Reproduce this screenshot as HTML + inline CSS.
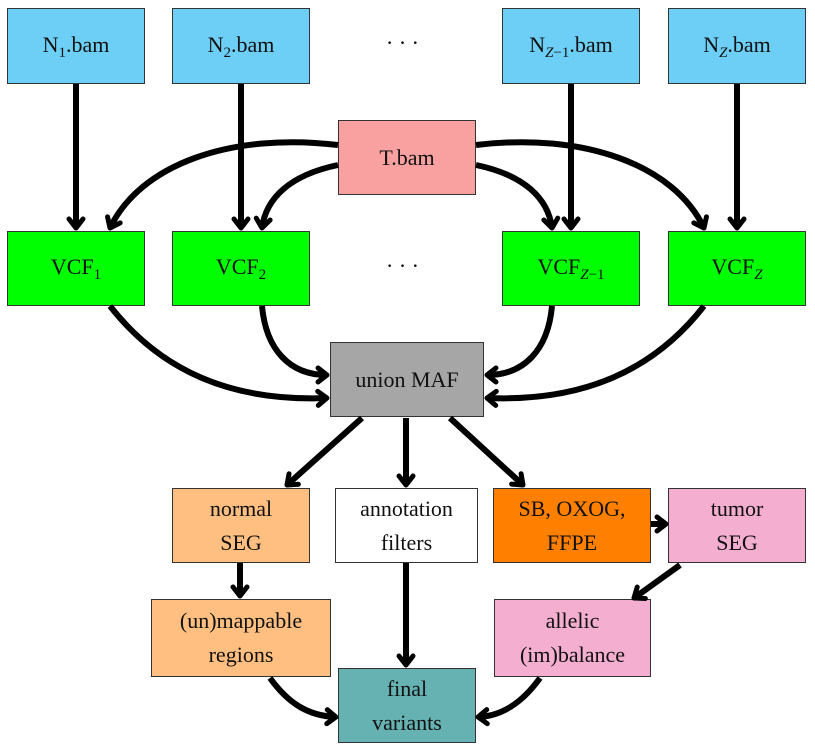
<!DOCTYPE html>
<html><head><meta charset="utf-8"><style>
body{margin:0;background:#fff;width:815px;height:749px;overflow:hidden;position:relative;font-family:"Liberation Serif",serif;}
.b{position:absolute;border:1px solid #333;box-sizing:border-box;display:flex;align-items:center;justify-content:center;text-align:center;font-size:22px;line-height:34px;color:#111;}
.bl{background:#6dcff6}.g{background:#00ff00}
.s{font-size:15px;position:relative;top:5px;}
i{font-style:italic}
.dots{position:absolute;font-size:22px;}
svg{position:absolute;left:0;top:0}
</style></head><body>
<div class="b bl" style="left:7px;top:8px;width:138px;height:76px"><span>N<span class="s">1</span>.bam</span></div>
<div class="b bl" style="left:172px;top:8px;width:138px;height:76px"><span>N<span class="s">2</span>.bam</span></div>
<div class="dots" style="left:386px;top:30px">· · ·</div>
<div class="b bl" style="left:502px;top:8px;width:138px;height:76px"><span>N<span class="s"><i>Z</i>−1</span>.bam</span></div>
<div class="b bl" style="left:668px;top:8px;width:138px;height:76px"><span>N<span class="s"><i>Z</i></span>.bam</span></div>
<div class="b" style="left:338px;top:120px;width:138px;height:75px;background:#f9a0a0">T.bam</div>
<div class="b g" style="left:7px;top:231px;width:138px;height:75px"><span>VCF<span class="s">1</span></span></div>
<div class="b g" style="left:172px;top:231px;width:138px;height:75px"><span>VCF<span class="s">2</span></span></div>
<div class="dots" style="left:386px;top:253px">· · ·</div>
<div class="b g" style="left:502px;top:231px;width:138px;height:75px"><span>VCF<span class="s"><i>Z</i>−1</span></span></div>
<div class="b g" style="left:668px;top:231px;width:138px;height:75px"><span>VCF<span class="s"><i>Z</i></span></span></div>
<div class="b" style="left:330px;top:342px;width:154px;height:75px;background:#a6a6a6">union MAF</div>
<div class="b" style="left:172px;top:488px;width:138px;height:75px;background:#ffbf80">normal<br>SEG</div>
<div class="b" style="left:335px;top:488px;width:143px;height:75px;background:#fff">annotation<br>filters</div>
<div class="b" style="left:493px;top:488px;width:158px;height:75px;background:#ff8000">SB, OXOG,<br>FFPE</div>
<div class="b" style="left:668px;top:488px;width:138px;height:75px;background:#f3aed0">tumor<br>SEG</div>
<div class="b" style="left:151px;top:599px;width:180px;height:78px;background:#ffbf80">(un)mappable<br>regions</div>
<div class="b" style="left:494px;top:599px;width:157px;height:78px;background:#f3aed0">allelic<br>(im)balance</div>
<div class="b" style="left:338px;top:668px;width:138px;height:75px;background:#66b2b2">final<br>variants</div>
<svg width="815" height="749" viewBox="0 0 815 749">
<defs><marker id="a" markerWidth="20" markerHeight="20" refX="9" refY="0" viewBox="-3 -10 15 20" orient="auto" markerUnits="userSpaceOnUse" overflow="visible">
<polyline points="0,-7 9,0 0,7" fill="none" stroke="#000" stroke-width="5" stroke-linecap="round" stroke-linejoin="round"/></marker></defs>
<g fill="none" stroke="#000" stroke-width="6" marker-end="url(#a)">
<path d="M76,84 V228"/><path d="M241,84 V228"/><path d="M571,84 V228"/><path d="M737,84 V228"/>
<path d="M338,145 C230,132 140,165 110,228"/>
<path d="M338,165 C290,175 266,198 262,228"/>
<path d="M476,145 C584,132 674,165 704,228"/>
<path d="M476,165 C524,175 548,198 552,228"/>
<path d="M110,306 C160,370 230,402 327,398"/>
<path d="M262,306 C266,350 290,375 327,375"/>
<path d="M704,306 C654,370 584,402 487,398"/>
<path d="M552,306 C548,350 524,375 487,375"/>
<path d="M362,418 L287,485"/>
<path d="M406,418 V485"/>
<path d="M450,418 L523,485"/>
<path d="M651,524 H666"/>
<path d="M680,565 L634,598"/>
<path d="M240,563 V596"/>
<path d="M406,563 V665"/>
<path d="M270,678 C288,703 308,716 336,717"/>
<path d="M540,678 C522,703 502,716 478,717"/>
</g></svg>
</body></html>
